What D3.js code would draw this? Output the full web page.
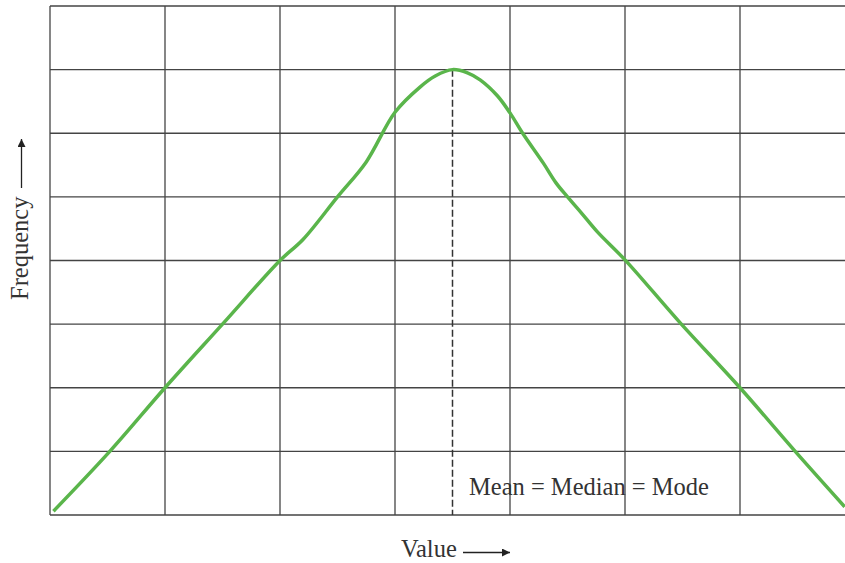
<!DOCTYPE html>
<html>
<head>
<meta charset="utf-8">
<script src="https://cdn.jsdelivr.net/npm/d3@7"></script>
<style>
  body { margin: 0; background: #fff; }
  text { font-family: "Liberation Serif", "DejaVu Serif", serif; fill: #333; }
</style>
</head>
<body>
<svg id="chart" width="845" height="563"></svg>
<script>
// grid cells (value units)
var xTicks = [0, 1, 2, 3, 4, 5, 6, 7]
var yTicks = [0, 1, 2, 3, 4, 5, 6, 7, 8]

// curve
var curveX = [0.03, 0.52, 1.0, 1.5, 2.0, 2.2, 2.5, 2.75, 3.0, 3.22, 3.35, 3.5, 3.63, 3.74, 3.89, 4.0, 4.11, 4.29, 4.4, 4.5, 4.62, 4.76, 5.0, 5.48, 6.0, 6.48, 6.91]
var curveY = [0.06, 1.0, 2.0, 3.0, 4.0, 4.33, 5.0, 5.55, 6.33, 6.73, 6.9, 7.0, 6.95, 6.84, 6.59, 6.32, 6.0, 5.53, 5.22, 5.0, 4.75, 4.45, 4.01, 3.02, 2.0, 1.0, 0.13]

var peakX = 3.5, peakY = 7
var annotation = 'Mean = Median = Mode'
var xLabel = 'Value'
var yLabel = 'Frequency'

var svg = d3.select('#chart')
var x = d3.scaleLinear().domain([0, 7]).range([50, 855])
var y = d3.scaleLinear().domain([0, 8]).range([515, 6])

var defs = svg.append('defs')
defs.append('marker').attr('id', 'arr').attr('viewBox', '0 0 10 10')
  .attr('refX', 10).attr('refY', 5).attr('markerWidth', 11).attr('markerHeight', 8)
  .attr('markerUnits', 'userSpaceOnUse').attr('orient', 'auto')
  .append('path').attr('d', 'M0,0 L10,5 L0,10 z').attr('fill', '#222')

var grid = svg.append('g').attr('stroke', '#444').attr('stroke-width', 1.3)
grid.selectAll('.vx').data(xTicks).enter().append('line')
  .attr('x1', function(d) { return x(d) }).attr('x2', function(d) { return x(d) })
  .attr('y1', y(0)).attr('y2', y(8))
grid.selectAll('.hy').data(yTicks).enter().append('line')
  .attr('y1', function(d) { return y(d) }).attr('y2', function(d) { return y(d) })
  .attr('x1', x(0)).attr('x2', 845)

// dashed line at the peak
svg.append('line')
  .attr('x1', x(peakX)).attr('x2', x(peakX))
  .attr('y1', y(peakY)).attr('y2', y(0))
  .attr('stroke', '#333').attr('stroke-width', 1.5).attr('stroke-dasharray', '7,3')

var pts = curveX.map(function(d, i) { return [d, curveY[i]] })
var line = d3.line().x(function(d) { return x(d[0]) }).y(function(d) { return y(d[1]) })
  .curve(d3.curveCatmullRom)
svg.append('path').attr('d', line(pts))
  .attr('fill', 'none').attr('stroke', '#5ab54b').attr('stroke-width', 3.5)
  .attr('stroke-linejoin', 'round')

svg.append('text').attr('x', 469).attr('y', 495).attr('font-size', 24.5).text(annotation)

// axis labels with arrows
svg.append('text').attr('x', 401).attr('y', 557).attr('font-size', 24.5).text(xLabel)
svg.append('line').attr('x1', 463).attr('x2', 510).attr('y1', 552.5).attr('y2', 552.5)
  .attr('stroke', '#222').attr('stroke-width', 1.3).attr('marker-end', 'url(#arr)')

svg.append('text').attr('transform', 'translate(28,300) rotate(-90)')
  .attr('font-size', 24.5).text(yLabel)
svg.append('line').attr('x1', 21.5).attr('x2', 21.5).attr('y1', 188).attr('y2', 139)
  .attr('stroke', '#222').attr('stroke-width', 1.3).attr('marker-end', 'url(#arr)')
</script>
</body>
</html>
